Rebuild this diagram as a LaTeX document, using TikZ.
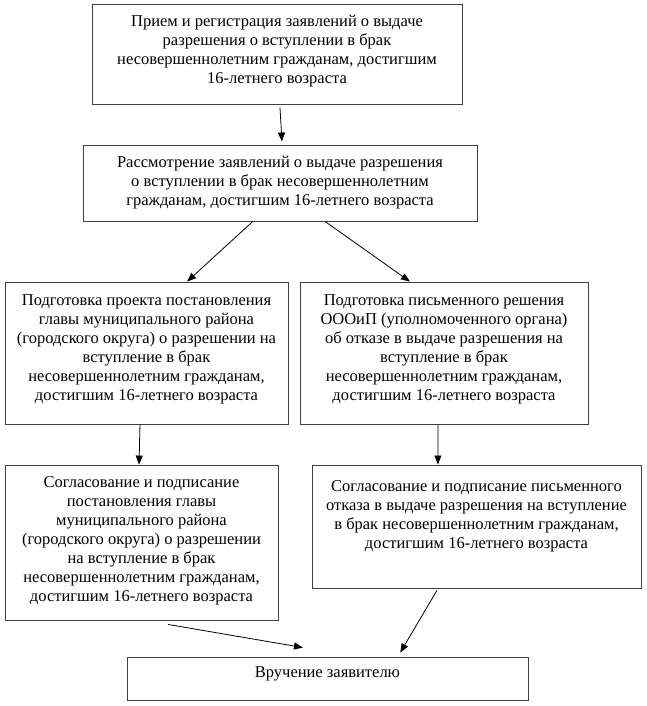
\documentclass[tikz,border=0pt]{standalone}
\usepackage{fontspec}
\setmainfont{Liberation Serif}
\usetikzlibrary{arrows.meta,calc}
\begin{document}
\begin{tikzpicture}[x=1pt,y=-1pt,
  box/.style={draw=black!75,line width=0.9pt,inner sep=0pt,align=center,
    font=\fontsize{16.5}{19}\selectfont},
  arr/.style={-{Triangle[length=9pt,width=7pt]},line width=0.8pt,black}]
\useasboundingbox (0,0) rectangle (646,706);
\node[box,minimum width=370pt,minimum height=100pt] (b1) at (277,54)
 {Прием и регистрация заявлений о выдаче\\разрешения о вступлении в брак\\несовершеннолетним гражданам, достигшим\\16-летнего возраста\\[-10pt]\mbox{}};
\node[box,minimum width=394pt,minimum height=76pt] (b2) at (280,183)
 {Рассмотрение заявлений о выдаче разрешения\\о вступлении в брак несовершеннолетним\\гражданам, достигшим 16-летнего возраста};
\node[box,minimum width=283pt,minimum height=142pt] (b3) at (146.5,353)
 {Подготовка проекта постановления\\главы муниципального района\\(городского округа) о разрешении на\\вступление в брак\\несовершеннолетним гражданам,\\достигшим 16-летнего возраста\\[-8pt]\mbox{}};
\node[box,minimum width=288pt,minimum height=142pt] (b4) at (444,353)
 {Подготовка письменного решения\\ОООиП (уполномоченного органа)\\об отказе в выдаче разрешения на\\вступление в брак\\несовершеннолетним гражданам,\\достигшим 16-летнего возраста\\[-8pt]\mbox{}};
\node[box,minimum width=273pt,minimum height=155pt] (b5) at (141.5,542.5)
 {Согласование и подписание\\постановления главы\\муниципального района\\(городского округа) о разрешении\\на вступление в брак\\несовершеннолетним гражданам,\\достигшим 16-летнего возраста\\[-12pt]\mbox{}};
\node[box,minimum width=329pt,minimum height=123pt] (b6) at (476.5,526.5)
 {Согласование и подписание письменного\\отказа в выдаче разрешения на вступление\\в брак несовершеннолетним гражданам,\\достигшим 16-летнего возраста\\[4pt]\mbox{}};
\node[box,minimum width=401pt,minimum height=43pt] (b7) at (327.5,678.5)
 {Вручение заявителю\\[-6pt]\mbox{}};
\draw[arr] ($(b1.south west)!0.508!(b1.south east)+(0,3)$) -- ($(b2.north west)!0.505!(b2.north east)+(0,-3)$);
\draw[arr] ($(b2.south west)!0.431!(b2.south east)$) -- ($(b3.north west)!0.643!(b3.north east)$);
\draw[arr] ($(b2.south west)!0.614!(b2.south east)$) -- ($(b4.north west)!0.382!(b4.north east)$);
\draw[arr] ($(b3.south west)!0.477!(b3.south east)$) -- ($(b5.north west)!0.491!(b5.north east)$);
\draw[arr] ($(b4.south west)!0.479!(b4.south east)$) -- ($(b6.north west)!0.383!(b6.north east)$);
\draw[arr] ($(b5.south west)!0.597!(b5.south east)+(0,4)$) -- ($(b7.north west)!0.439!(b7.north east)+(0,-9)$);
\draw[arr] ($(b6.south west)!0.380!(b6.south east)+(0,2)$) -- ($(b7.north west)!0.681!(b7.north east)+(0,-4)$);
\end{tikzpicture}
\end{document}
